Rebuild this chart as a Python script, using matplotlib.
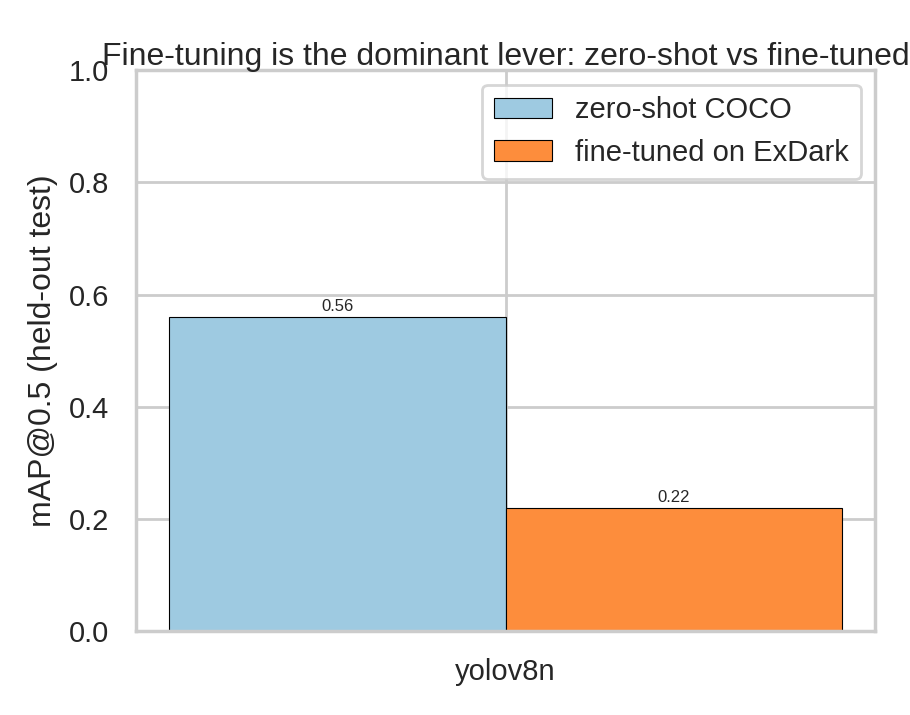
import matplotlib
matplotlib.use("Agg")
import matplotlib.pyplot as plt
import seaborn as sns
import numpy as np

sns.set_theme(style="whitegrid", font_scale=1.0)
plt.rcParams['font.family'] = ['Liberation Sans', 'DejaVu Sans']

models = ["yolov8n"]
zero_shot = [0.56]
fine_tuned = [0.22]
series_names = ["zero-shot COCO", "fine-tuned on ExDark"]

fig = plt.figure(figsize=(4.55, 3.575), dpi=200)
ax = fig.add_axes([0.149, 0.117, 0.813, 0.785])
x = np.arange(len(models))
w = 0.4
b1 = ax.bar(x - w/2, zero_shot, w, color="#9ecae1", edgecolor="black", linewidth=0.4, label=series_names[0])
b2 = ax.bar(x + w/2, fine_tuned, w, color="#fd8d3c", edgecolor="black", linewidth=0.4, label=series_names[1])
for bars in (b1, b2):
    for r in bars:
        ax.text(r.get_x() + r.get_width()/2, r.get_height() + 0.005, f"{r.get_height():.2f}",
                ha="center", va="bottom", fontsize=6)
ax.set_xticks(x)
ax.set_xticklabels(models, fontsize=10.5)
ax.tick_params(axis="y", labelsize=10.5)
ax.set_ylim(0, 1.0)
ax.set_ylabel("mAP@0.5 (held-out test)", fontsize=11.5)
ax.set_title("Fine-tuning is the dominant lever: zero-shot vs fine-tuned", fontsize=11.5, pad=2)
ax.legend(loc="upper right", fontsize=10.5)
fig.savefig("out.png", dpi=200)
